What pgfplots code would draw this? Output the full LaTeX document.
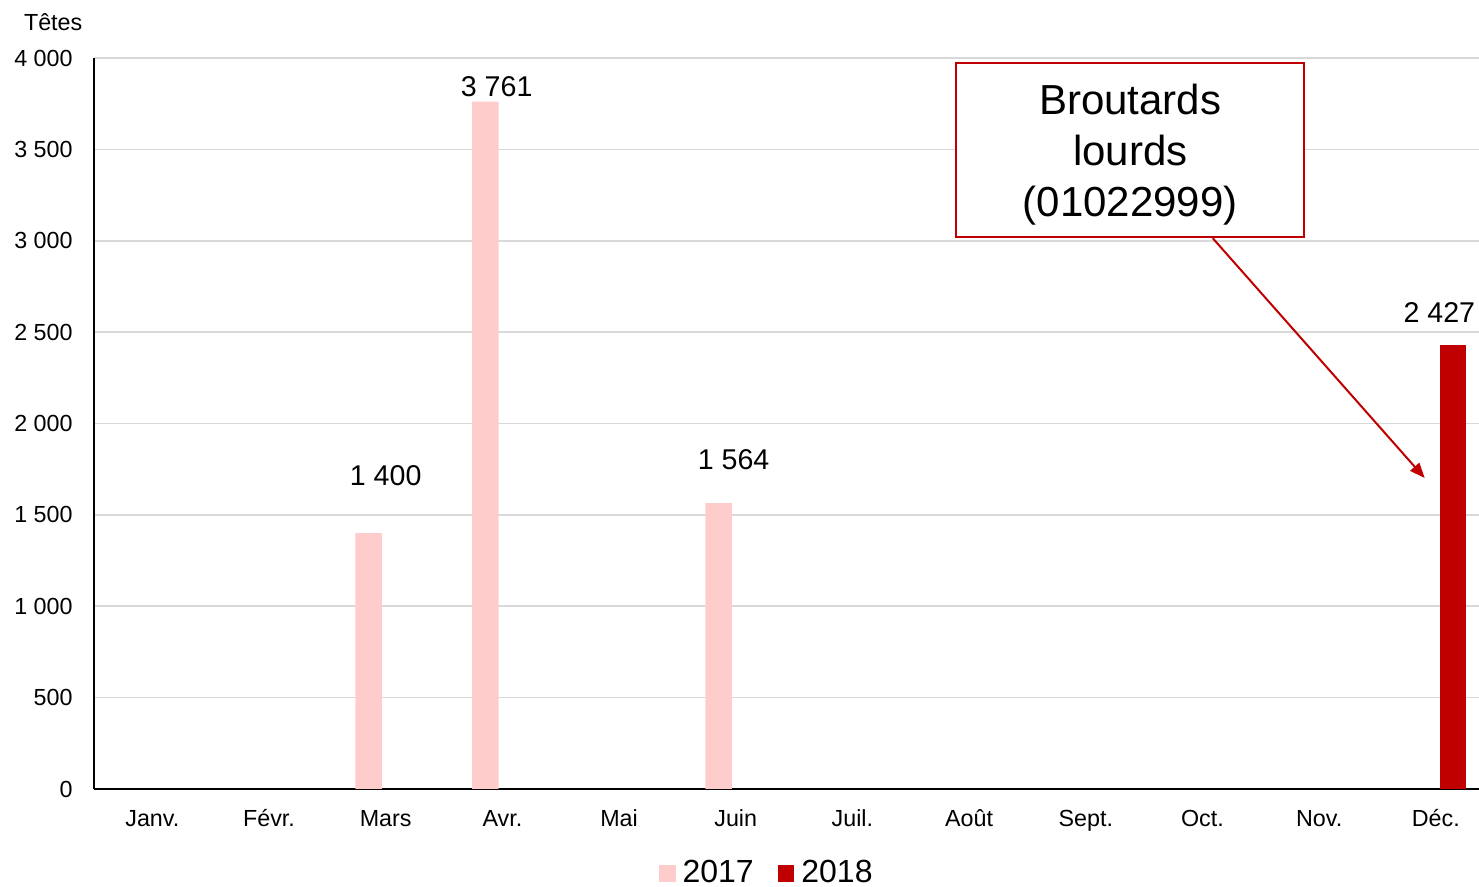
\documentclass[border=0pt]{standalone}
\usepackage{fontspec}
\setmainfont{Liberation Sans}
\usepackage{pgfplots}
\pgfplotsset{compat=1.18}
\usetikzlibrary{arrows.meta}
\definecolor{pinkbar}{HTML}{FFCCCC}
\definecolor{darkred}{HTML}{C00000}
\definecolor{gridgray}{HTML}{D9D9D9}
\begin{document}
\begin{tikzpicture}
\useasboundingbox (0,0) rectangle (739.5pt,443.5pt);
\begin{axis}[
  at={(47pt,49pt)}, anchor=south west,
  scale only axis, width=692.5pt, height=365.5pt,
  xmin=-0.5, xmax=11.37, ymin=0, ymax=4000,
  ybar=3.75pt, bar width=13.25pt,
  axis x line*=bottom, axis y line*=left,
  axis line style={black, line width=0.8pt, -},
  major tick length=0pt,
  xtick={0,...,11},
  xticklabels={Janv.,Févr.,Mars,Avr.,Mai,Juin,Juil.,Août,Sept.,Oct.,Nov.,Déc.},
  ytick={0,500,...,4000},
  yticklabels={0,500,1 000,1 500,2 000,2 500,3 000,3 500,4 000},
  ymajorgrids, grid style={gridgray, line width=0.8pt},
  xticklabel style={anchor=base, yshift=-19pt, font=\fontsize{11.65}{14}\selectfont},
  yticklabel style={anchor=east, inner sep=0pt, xshift=-10.5pt, font=\fontsize{11.65}{14}\selectfont},
  clip=false,
  legend columns=2,
  legend image code/.code={\fill[#1] (0pt,-4.5pt) rectangle (8.3pt,3.8pt);},
  legend style={draw=none, fill=none, at={(0.4865,-0.115)}, anchor=center,
    font=\fontsize{16}{18}\selectfont,
    /tikz/every even column/.append style={column sep=10pt},
    /tikz/every odd column/.append style={column sep=1.5pt}},
]
\addplot[fill=pinkbar, draw=none] coordinates {(2,1400) (3,3761) (5,1564)};
\addlegendentry{2017}
\addplot[fill=darkred, draw=none] coordinates {(11,2427)};
\addlegendentry{2018}

\node[anchor=base, font=\fontsize{14.3}{17}\selectfont] at (axis cs:2.0,1663) {1 400};
\node[anchor=base, font=\fontsize{14.3}{17}\selectfont] at (axis cs:2.951,3790) {3 761};
\node[anchor=base, font=\fontsize{14.3}{17}\selectfont] at (axis cs:4.982,1746) {1 564};
\node[anchor=base, font=\fontsize{14.3}{17}\selectfont] at (axis cs:11.03,2555) {2 427};

\node[anchor=base, font=\fontsize{11.65}{14}\selectfont] at (axis cs:-0.850,4153) {Têtes};

\draw[darkred, line width=1pt, fill=white] (axis cs:6.891,3974) rectangle (axis cs:9.871,3019);
\node[align=center, font=\fontsize{21}{25.6}\selectfont] at (axis cs:8.381,3470) {Broutards\\lourds\\(01022999)};
\draw[darkred, line width=1pt, -{Triangle[length=7.5pt,width=6pt]}] (axis cs:9.088,3014) -- (axis cs:10.904,1702);
\end{axis}
\end{tikzpicture}
\end{document}
